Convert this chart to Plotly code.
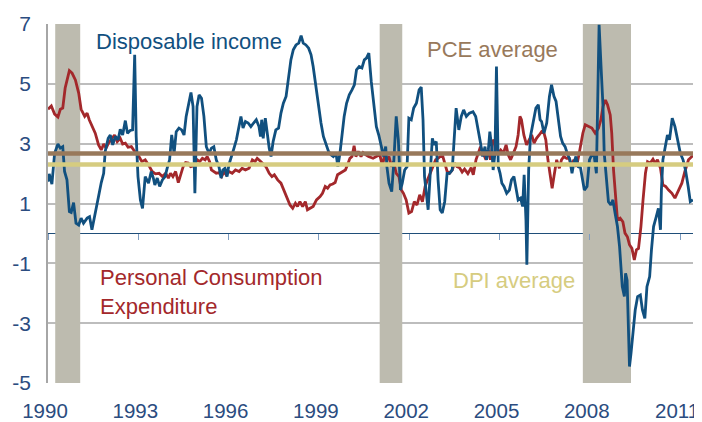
import plotly.graph_objects as go

# ---------------- data ----------------
dpi_years = [1990.0, 1990.04, 1990.13, 1990.22, 1990.33, 1990.41, 1990.49, 1990.55, 1990.63, 1990.71,
             1990.77, 1990.85, 1990.93, 1991.02, 1991.1, 1991.18, 1991.3, 1991.38, 1991.46, 1991.55,
             1991.63, 1991.7, 1991.77, 1991.85, 1991.9, 1992.0, 1992.07, 1992.15, 1992.24, 1992.33,
             1992.4, 1992.48, 1992.57, 1992.64, 1992.73, 1992.81, 1992.88, 1992.93, 1992.99, 1993.07,
             1993.14, 1993.23, 1993.34, 1993.43, 1993.5, 1993.55, 1993.63, 1993.71, 1993.8, 1993.89,
             1993.96, 1994.04, 1994.11, 1994.19, 1994.26, 1994.35, 1994.44, 1994.52, 1994.59, 1994.68,
             1994.75, 1994.82, 1994.88, 1994.95, 1995.02, 1995.1, 1995.18, 1995.26, 1995.35, 1995.43,
             1995.51, 1995.59, 1995.68, 1995.75, 1995.81, 1995.88, 1995.95, 1996.01, 1996.1, 1996.18,
             1996.26, 1996.35, 1996.41, 1996.48, 1996.56, 1996.65, 1996.74, 1996.83, 1996.92, 1997.01,
             1997.06, 1997.1, 1997.15, 1997.22, 1997.3, 1997.35, 1997.41, 1997.48, 1997.57, 1997.66,
             1997.74, 1997.82, 1997.91, 1997.99, 1998.07, 1998.15, 1998.24, 1998.33, 1998.41, 1998.48,
             1998.57, 1998.66, 1998.74, 1998.81, 1998.9, 1998.99, 1999.07, 1999.15, 1999.24, 1999.32,
             1999.4, 1999.48, 1999.57, 1999.63, 1999.7, 1999.77, 1999.84, 1999.92, 2000.01, 2000.1,
             2000.18, 2000.25, 2000.34, 2000.43, 2000.51, 2000.58, 2000.66, 2000.74, 2000.82, 2000.91,
             2000.99, 2001.07, 2001.15, 2001.22, 2001.26, 2001.33, 2001.42, 2001.48, 2001.57, 2001.64,
             2001.71, 2001.77, 2001.85, 2001.93, 2001.99, 2002.07, 2002.15, 2002.24, 2002.33, 2002.4,
             2002.46, 2002.51, 2002.57, 2002.63, 2002.7, 2002.77, 2002.83, 2002.9, 2002.96, 2003.03,
             2003.1, 2003.18, 2003.26, 2003.34, 2003.43, 2003.51, 2003.56, 2003.65, 2003.73, 2003.81,
             2003.9, 2004.0, 2004.12, 2004.21, 2004.3, 2004.37, 2004.44, 2004.52, 2004.57, 2004.63,
             2004.68, 2004.74, 2004.79, 2004.85, 2004.9, 2004.96, 2005.02, 2005.08, 2005.15, 2005.24,
             2005.33, 2005.4, 2005.48, 2005.55, 2005.62, 2005.7, 2005.77, 2005.82, 2005.88, 2005.91,
             2005.97, 2006.03, 2006.12, 2006.21, 2006.29, 2006.35, 2006.4, 2006.48, 2006.57, 2006.66,
             2006.73, 2006.81, 2006.88, 2006.95, 2007.03, 2007.1, 2007.18, 2007.25, 2007.34, 2007.41,
             2007.47, 2007.54, 2007.62, 2007.69, 2007.76, 2007.82, 2007.91, 2007.99, 2008.07, 2008.15,
             2008.22, 2008.26, 2008.31, 2008.38, 2008.44, 2008.48, 2008.55, 2008.62, 2008.7, 2008.77,
             2008.84, 2008.92, 2008.99, 2009.04, 2009.08, 2009.15, 2009.19, 2009.24, 2009.28, 2009.32,
             2009.37, 2009.44, 2009.51, 2009.59, 2009.68, 2009.75, 2009.83, 2009.9, 2009.99, 2010.05,
             2010.12, 2010.21, 2010.28, 2010.35, 2010.38, 2010.43, 2010.51, 2010.58, 2010.65, 2010.74,
             2010.83, 2010.92, 2011.01, 2011.1, 2011.18, 2011.27, 2011.34, 2011.43]
dpi_values = [1.73, 1.99, 1.65, 2.68, 2.99, 2.85, 2.9, 2.07, 1.79, 0.73,
              0.70, 1.03, 0.34, 0.28, 0.51, 0.34, 0.51, 0.56, 0.12, 0.62,
              0.95, 1.34, 1.7, 2.01, 2.74, 3.18, 3.29, 2.96, 3.24, 3.13,
              3.48, 3.29, 3.77, 3.35, 3.44, 3.46, 5.97, 3.24, 1.9, 1.12,
              0.84, 1.9, 1.68, 2.07, 1.85, 1.62, 1.85, 1.57, 1.79, 1.9,
              2.18, 2.46, 3.29, 2.68, 3.4, 3.52, 3.46, 3.29, 3.91, 4.35,
              4.71, 4.24, 1.34, 4.24, 4.63, 4.52, 3.91, 2.9, 2.68, 2.85,
              2.9, 2.46, 2.23, 1.85, 2.12, 2.18, 1.9, 2.29, 2.63, 2.85,
              3.13, 3.63, 3.91, 3.52, 3.74, 3.69, 3.57, 3.69, 3.80, 3.57,
              3.24, 3.80, 3.18, 3.85, 3.18, 2.85, 2.57, 3.07, 3.46, 3.52,
              4.02, 4.35, 4.58, 5.30, 5.80, 6.14, 6.30, 6.36, 6.61, 6.36,
              6.30, 6.19, 5.97, 5.58, 4.91, 4.24, 3.69, 3.24, 2.96, 2.74,
              2.63, 2.57, 2.68, 2.23, 2.68, 3.35, 3.91, 4.35, 4.63, 4.80,
              4.97, 5.47, 5.58, 5.53, 5.80, 5.86, 6.03, 5.08, 4.35, 3.57,
              3.29, 2.9, 2.57, 2.9, 2.23, 1.68, 1.4, 2.23, 3.91, 3.13,
              1.45, 1.68, 2.12, 2.23, 3.85, 3.80, 4.19, 4.35, 4.8, 4.89,
              3.80, 1.9, 1.34, 0.79, 2.01, 3.18, 2.96, 3.07, 1.79, 0.79,
              0.68, 1.06, 2.01, 2.01, 2.12, 3.35, 4.19, 3.46, 3.91, 4.13,
              3.91, 4.02, 4.07, 3.91, 3.46, 3.02, 2.57, 2.9, 2.46, 2.79,
              3.40, 2.9, 2.12, 2.68, 5.58, 2.23, 2.01, 1.68, 1.57, 1.34,
              1.45, 1.79, 1.9, 1.45, 1.12, 1.18, 0.9, 1.96, 0.45, -1.05,
              2.12, 3.24, 3.69, 4.19, 4.30, 3.80, 3.74, 3.35, 3.69, 4.58,
              4.97, 4.58, 4.41, 3.80, 3.24, 3.02, 2.9, 2.68, 2.46, 2.01,
              2.35, 2.57, 2.23, 2.2, 1.75, 1.45, 1.57, 2.46, 2.63, 2.57,
              2.01, 3.80, 6.97, 5.47, 4.24, 2.68, 1.79, 1.06, 0.95, 1.12,
              0.68, 0.23, -0.44, -1.22, -1.78, -2.11, -1.33, -1.56, -2.89, -4.45,
              -4.01, -3.23, -2.56, -2.11, -2.06, -2.56, -2.84, -1.78, -1.44, -0.55,
              0.23, 0.56, 0.84, 0.12, 1.45, 2.46, 2.9, 3.29, 3.13, 3.85,
              3.57, 3.07, 2.68, 2.46, 2.12, 1.57, 1.06, 1.12]

pce_years = [1990.0, 1990.11, 1990.22, 1990.33, 1990.41, 1990.49, 1990.57, 1990.71, 1990.8, 1990.91,
             1991.02, 1991.1, 1991.22, 1991.3, 1991.37, 1991.48, 1991.57, 1991.68, 1991.77, 1991.85,
             1991.93, 1992.01, 1992.13, 1992.21, 1992.3, 1992.4, 1992.48, 1992.57, 1992.66, 1992.77,
             1992.88, 1992.99, 1993.12, 1993.23, 1993.34, 1993.46, 1993.57, 1993.69, 1993.8, 1993.91,
             1994.0, 1994.07, 1994.15, 1994.24, 1994.33, 1994.41, 1994.49, 1994.57, 1994.66, 1994.74,
             1994.85, 1994.96, 1995.04, 1995.13, 1995.22, 1995.29, 1995.37, 1995.43, 1995.51, 1995.59,
             1995.68, 1995.77, 1995.85, 1995.92, 1996.01, 1996.12, 1996.23, 1996.35, 1996.45, 1996.56,
             1996.68, 1996.79, 1996.88, 1996.95, 1997.05, 1997.13, 1997.24, 1997.35, 1997.44, 1997.52,
             1997.63, 1997.74, 1997.85, 1997.96, 1998.04, 1998.13, 1998.22, 1998.29, 1998.37, 1998.46,
             1998.55, 1998.62, 1998.7, 1998.81, 1998.92, 1999.04, 1999.12, 1999.21, 1999.29, 1999.37,
             1999.46, 1999.54, 1999.62, 1999.7, 1999.79, 1999.88, 1999.95, 2000.03, 2000.1, 2000.17,
             2000.23, 2000.31, 2000.4, 2000.47, 2000.56, 2000.65, 2000.8, 2000.91, 2001.02, 2001.11,
             2001.18, 2001.26, 2001.33, 2001.41, 2001.48, 2001.57, 2001.66, 2001.74, 2001.81, 2001.9,
             2001.99, 2002.08, 2002.17, 2002.26, 2002.35, 2002.44, 2002.53, 2002.61, 2002.7, 2002.79,
             2002.88, 2002.96, 2003.03, 2003.12, 2003.19, 2003.26, 2003.34, 2003.43, 2003.51, 2003.59,
             2003.67, 2003.76, 2003.84, 2003.95, 2004.06, 2004.13, 2004.22, 2004.3, 2004.37, 2004.46,
             2004.55, 2004.63, 2004.7, 2004.79, 2004.88, 2004.96, 2005.04, 2005.13, 2005.22, 2005.29,
             2005.37, 2005.46, 2005.55, 2005.62, 2005.68, 2005.73, 2005.81, 2005.9, 2005.98, 2006.07,
             2006.15, 2006.23, 2006.32, 2006.4, 2006.48, 2006.54, 2006.61, 2006.68, 2006.75, 2006.81,
             2006.9, 2006.99, 2007.06, 2007.14, 2007.23, 2007.32, 2007.39, 2007.47, 2007.56, 2007.65,
             2007.73, 2007.77, 2007.85, 2007.96, 2008.07, 2008.18, 2008.29, 2008.37, 2008.44, 2008.52,
             2008.59, 2008.68, 2008.73, 2008.79, 2008.86, 2008.92, 2009.01, 2009.1, 2009.17, 2009.25,
             2009.32, 2009.4, 2009.48, 2009.55, 2009.62, 2009.7, 2009.77, 2009.85, 2009.92, 2010.01,
             2010.1, 2010.17, 2010.25, 2010.35, 2010.43, 2010.52, 2010.62, 2010.73, 2010.83, 2010.94,
             2011.06, 2011.16, 2011.28, 2011.39, 2011.43]
pce_values = [4.15, 4.26, 3.99, 3.89, 4.15, 4.19, 4.86, 5.44, 5.36, 5.13,
              4.69, 4.15, 3.91, 4.02, 3.80, 3.57, 3.35, 2.96, 2.79, 2.99,
              2.85, 3.02, 3.18, 3.29, 3.07, 3.18, 2.99, 3.02, 2.88, 2.9,
              2.74, 2.63, 2.4, 2.46, 2.29, 2.07, 1.99, 2.01, 1.9, 2.01,
              1.85, 2.01, 1.9, 2.07, 1.70, 1.96, 2.23, 2.37, 2.35, 2.23,
              2.26, 2.46, 2.4, 2.51, 2.46, 2.57, 2.4, 2.12, 2.07, 2.01,
              2.03, 1.9, 2.07, 1.96, 2.07, 2.01, 2.12, 2.07, 2.18, 2.12,
              2.18, 2.46, 2.4, 2.51, 2.42, 2.35, 2.23, 2.01, 1.9, 1.96,
              1.79, 1.68, 1.4, 1.12, 0.95, 0.84, 1.01, 0.9, 1.06, 0.9,
              1.06, 0.79, 0.84, 0.9, 1.12, 1.23, 1.34, 1.57, 1.51, 1.62,
              1.65, 1.7, 1.96, 2.01, 2.07, 2.12, 2.29, 2.51, 2.57, 2.93,
              2.57, 2.74, 2.57, 2.7, 2.63, 2.57, 2.51, 2.57, 2.63, 2.29,
              2.57, 2.46, 2.57, 2.23, 2.40, 2.01, 1.9, 1.45, 1.34, 1.12,
              0.68, 0.73, 1.06, 0.95, 1.29, 1.06, 1.57, 1.79, 2.01, 2.23,
              2.46, 2.51, 2.57, 2.57, 2.35, 2.07, 2.01, 2.12, 2.35, 2.23,
              2.2, 2.05, 2.15, 2.0, 2.2, 1.96, 2.46, 2.68, 2.9, 2.68,
              2.46, 2.79, 2.46, 3.13, 3.02, 2.68, 2.79, 2.68, 2.96, 2.63,
              2.46, 2.68, 2.9, 3.29, 3.91, 3.80, 3.29, 2.96, 3.13, 3.29,
              3.02, 3.18, 3.29, 3.40, 3.35, 3.13, 2.46, 2.01, 1.51, 1.9,
              2.46, 2.18, 2.46, 2.57, 2.51, 2.51, 2.23, 2.46, 2.23, 2.68,
              3.13, 3.35, 3.63, 3.57, 3.52, 3.35, 3.52, 3.80, 4.24, 4.46,
              4.30, 3.96, 3.35, 2.12, 1.12, 0.45, 0.51, 0.39, 0.01, -0.11,
              -0.38, -0.5, -0.89, -0.55, -0.5, 0.23, 1.12, 2.01, 2.40, 2.35,
              2.48, 2.35, 2.46, 2.18, 1.62, 1.57, 1.45, 1.34, 1.18, 1.4,
              1.68, 2.07, 2.46, 2.57, 2.59]

pce_average = 2.67
dpi_average = 2.30

recessions = [(1990.24, 1991.07), (2001.02, 2001.77), (2007.77, 2009.37)]

x_tick_vals = [1990, 1993, 1996, 1999, 2002, 2005, 2008, 2011]
x_tick_text = ["1990", "1993", "1996", "1999", "2002", "2005", "2008", "2011"]
y_tick_vals = [-5, -3, -1, 1, 3, 5, 7]
y_tick_text = ["-5", "-3", "-1", "1", "3", "5", "7"]

X_RANGE = [1990, 2011.43]
Y_RANGE = [-5, 7]

# ---------------- styling ----------------
FONT = "Arial, 'Liberation Sans', sans-serif"
TICK_COLOR = "#2B4C80"
DPI_COLOR = "#11507F"
PCE_COLOR = "#A3282B"
PCE_AVG_COLOR = "#98795B"
DPI_AVG_COLOR = "#D6CC80"
REC_COLOR = "#BDBBAF"

fig = go.Figure()

fig.add_trace(go.Scatter(x=pce_years, y=pce_values, mode="lines",
                         line=dict(color=PCE_COLOR, width=2.8), name="PCE",
                         showlegend=False))
fig.add_trace(go.Scatter(x=dpi_years, y=dpi_values, mode="lines",
                         line=dict(color=DPI_COLOR, width=2.8), name="DPI",
                         showlegend=False))
fig.add_trace(go.Scatter(x=X_RANGE, y=[pce_average, pce_average], mode="lines",
                         line=dict(color=PCE_AVG_COLOR, width=4.5), xaxis="x2",
                         showlegend=False))
fig.add_trace(go.Scatter(x=X_RANGE, y=[dpi_average, dpi_average], mode="lines",
                         line=dict(color=DPI_AVG_COLOR, width=4.5), xaxis="x2",
                         showlegend=False))

for x0, x1 in recessions:
    fig.add_shape(type="rect", xref="x", yref="y", x0=x0, x1=x1,
                  y0=Y_RANGE[0], y1=Y_RANGE[1], fillcolor=REC_COLOR,
                  line=dict(width=0), layer="between")

annots = [
    dict(text="Disposable income", x=1991.57, y=6.40, color=DPI_COLOR),
    dict(text="PCE average", x=2002.56, y=6.16, color=PCE_AVG_COLOR),
    dict(text="Personal Consumption<br>Expenditure", x=1991.68, y=-1.96, color=PCE_COLOR),
    dict(text="DPI average", x=2003.42, y=-1.59, color=DPI_AVG_COLOR),
]
for a in annots:
    fig.add_annotation(text=a["text"], x=a["x"], y=a["y"], xref="x", yref="y",
                       xanchor="left", yanchor="middle", showarrow=False,
                       align="left", borderpad=0,
                       font=dict(family=FONT, size=22, color=a["color"]))

# the page body adds an 8px offset, so the figure is 8px smaller and margins shifted
fig.update_layout(
    width=694, height=414,
    margin=dict(l=40, r=9, t=16, b=39, autoexpand=False),
    paper_bgcolor="white", plot_bgcolor="white",
    showlegend=False,
    font=dict(family=FONT),
    xaxis=dict(range=X_RANGE, tickvals=x_tick_vals, ticktext=x_tick_text,
               automargin=False, ticklabeloverflow="allow", ticklabelshift=-3,
               showgrid=False, zeroline=False, showline=False,
               ticks="outside", ticklen=9, tickcolor="rgba(0,0,0,0)",
               tickfont=dict(family=FONT, size=20.5, color=TICK_COLOR)),
    xaxis2=dict(range=X_RANGE, overlaying="x", anchor="free", position=5 / 12,
                automargin=False,
                side="bottom", tickvals=x_tick_vals, showticklabels=False,
                showgrid=False, zeroline=False, showline=False,
                ticks="outside", ticklen=6, tickwidth=1, tickcolor="#7E9CC0"),
    yaxis=dict(range=Y_RANGE, tickvals=y_tick_vals, ticktext=y_tick_text,
               automargin=False, ticklabeloverflow="allow",
               showgrid=True, gridcolor="#BDBDBD", gridwidth=1.5,
               zeroline=True, zerolinecolor="#1F4E79", zerolinewidth=1.2,
               showline=True, linecolor="#A6A6A6", linewidth=1.5,
               ticks="outside", ticklen=11, tickcolor="rgba(0,0,0,0)",
               tickfont=dict(family=FONT, size=21, color=TICK_COLOR)),
)

fig.write_html("out.html")
